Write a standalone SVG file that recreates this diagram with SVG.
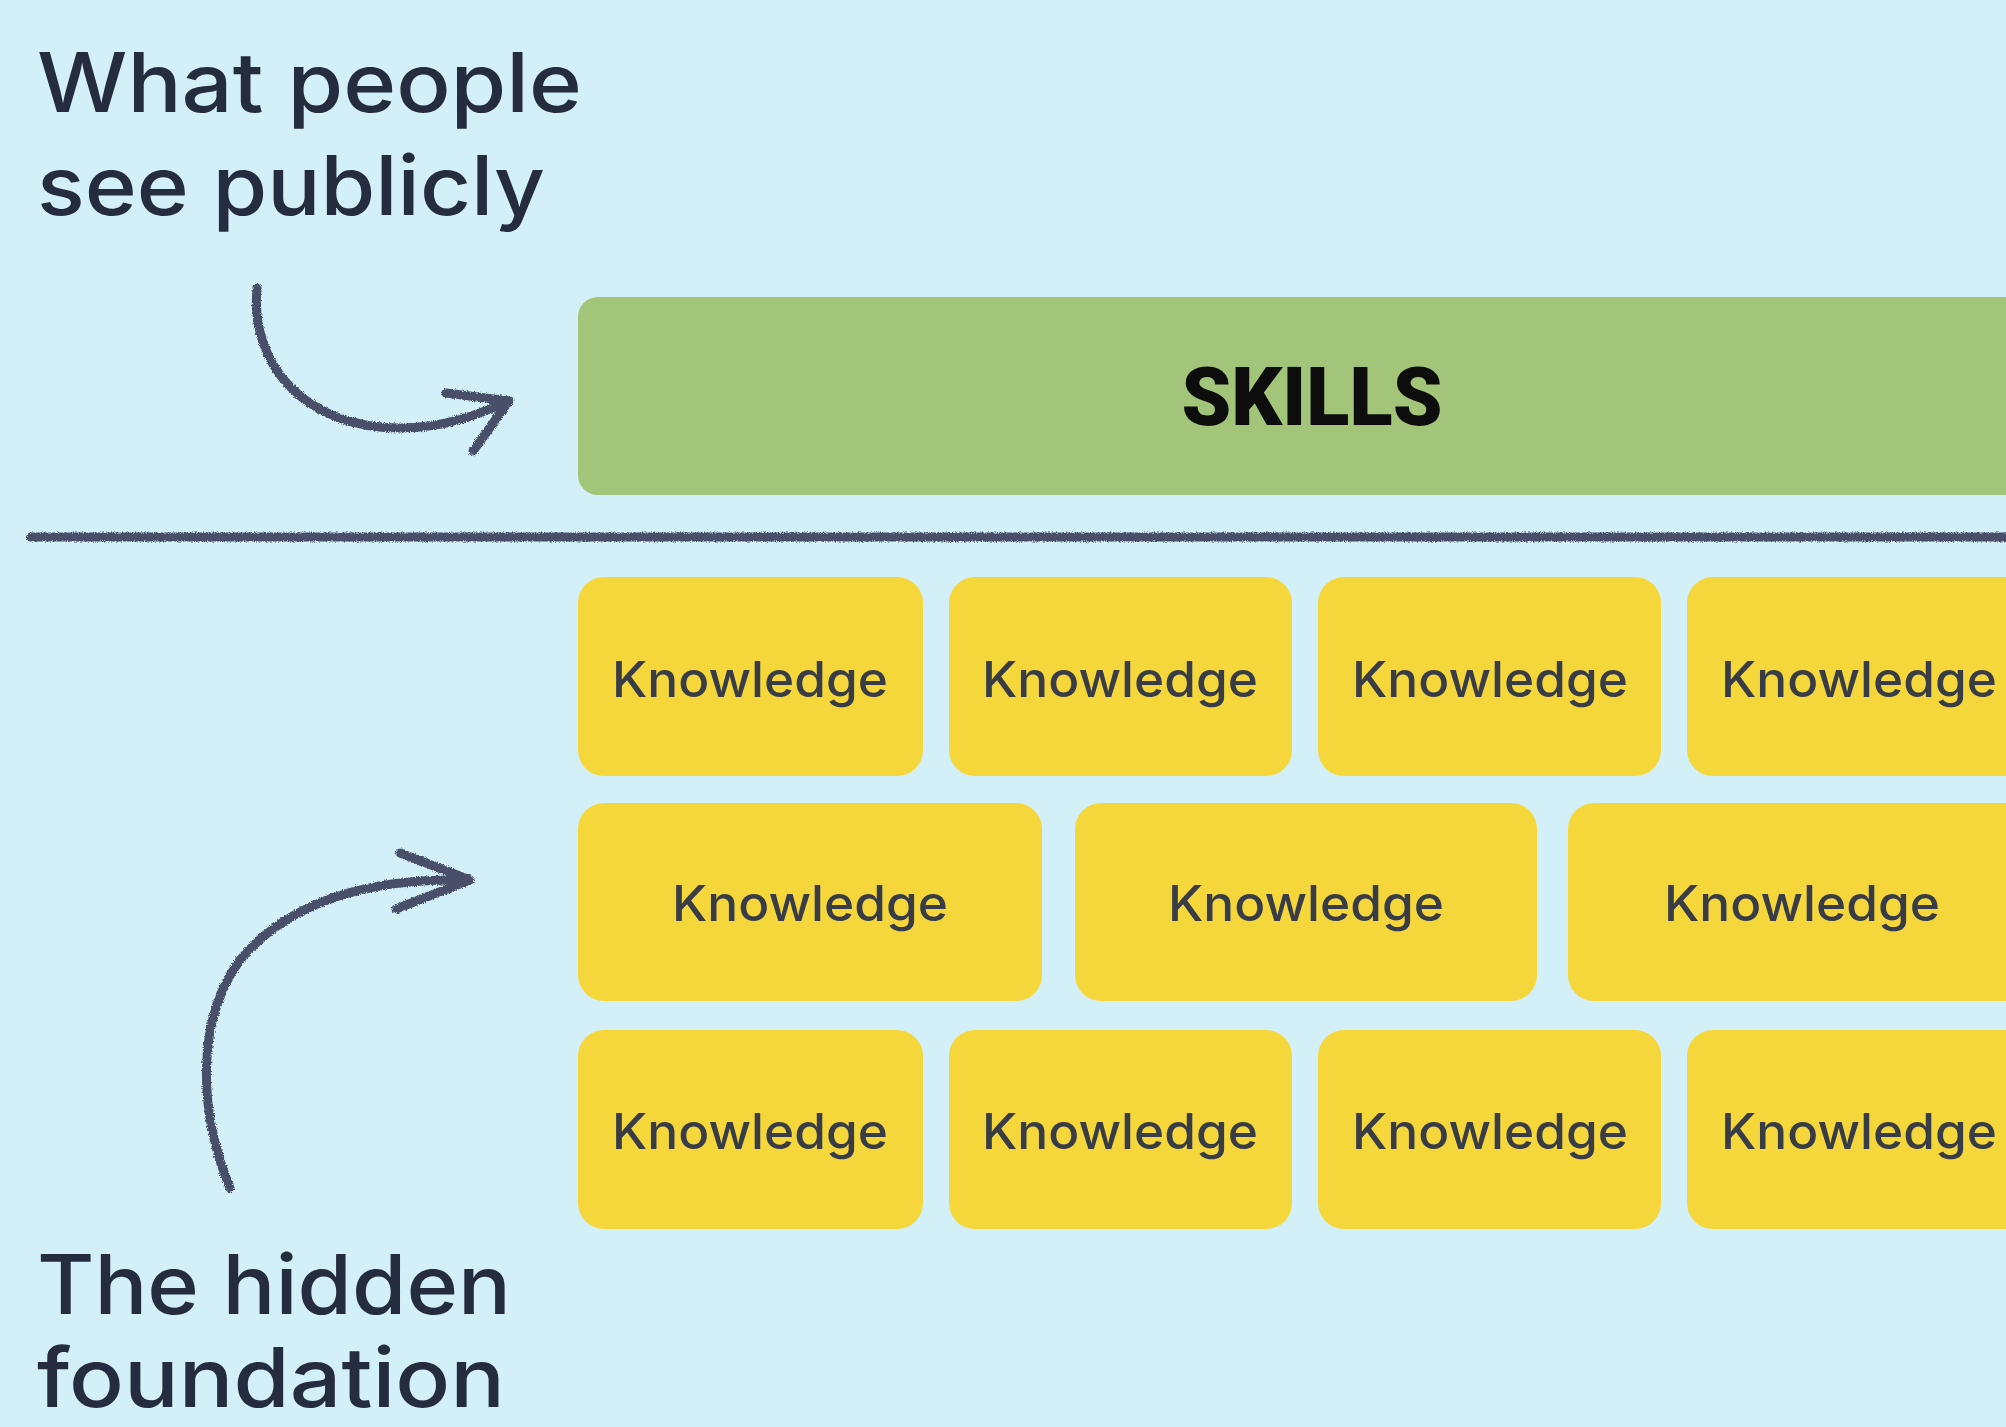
<svg xmlns="http://www.w3.org/2000/svg" width="2006" height="1427" viewBox="0 0 2006 1427">
  <style>
    .bg { fill: #d3eff7; }
    .label { font-family: "Inter", "Noto Sans", "Liberation Sans", sans-serif; font-weight: 500; font-size: 82px; fill: #262c3f; }
    .skills { fill: #a3c57a; }
    .skills-text { font-family: "Roboto", "Inter", "Liberation Sans", sans-serif; font-weight: 900; font-size: 82px; fill: #0d0d0d; text-anchor: middle; }
    .brick { fill: #f6d73b; }
    .brick-text { font-family: "Inter", "Noto Sans", "Liberation Sans", sans-serif; font-weight: 500; font-size: 49px; fill: #383c47; text-anchor: middle; }
    .pencil { fill: none; stroke: #484f68; stroke-width: 9; stroke-linecap: round; stroke-linejoin: round; }
  </style>
  <defs>
    <filter id="rough" x="-5%" y="-50%" width="110%" height="200%">
      <feTurbulence type="fractalNoise" baseFrequency="0.9" numOctaves="2" seed="3" result="n"/>
      <feDisplacementMap in="SourceGraphic" in2="n" scale="4" xChannelSelector="R" yChannelSelector="G"/>
    </filter>
  </defs>

  <rect class="bg" x="0" y="0" width="2006" height="1427"/>

  <g id="label-public">
    <text class="label" x="37" y="112" textLength="545" lengthAdjust="spacingAndGlyphs">What people</text>
    <text class="label" x="37" y="215" textLength="508" lengthAdjust="spacingAndGlyphs">see publicly</text>
  </g>

  <g id="label-hidden">
    <text class="label" x="37" y="1314" textLength="474" lengthAdjust="spacingAndGlyphs">The hidden</text>
    <text class="label" x="37" y="1407" textLength="468" lengthAdjust="spacingAndGlyphs">foundation</text>
  </g>

  <g id="skills">
    <rect class="skills" x="578" y="297" width="1460" height="198" rx="20"/>
    <text class="skills-text" x="1312" y="425" textLength="261" lengthAdjust="spacingAndGlyphs">SKILLS</text>
  </g>

  <g id="knowledge-r1c1"><rect class="brick" x="578" y="577" width="345" height="199" rx="26"/><text class="brick-text" x="750" y="697" textLength="276" lengthAdjust="spacingAndGlyphs">Knowledge</text></g>
  <g id="knowledge-r1c2"><rect class="brick" x="949" y="577" width="343" height="199" rx="26"/><text class="brick-text" x="1120" y="697" textLength="276" lengthAdjust="spacingAndGlyphs">Knowledge</text></g>
  <g id="knowledge-r1c3"><rect class="brick" x="1318" y="577" width="343" height="199" rx="26"/><text class="brick-text" x="1490" y="697" textLength="276" lengthAdjust="spacingAndGlyphs">Knowledge</text></g>
  <g id="knowledge-r1c4"><rect class="brick" x="1687" y="577" width="345" height="199" rx="26"/><text class="brick-text" x="1859" y="697" textLength="276" lengthAdjust="spacingAndGlyphs">Knowledge</text></g>

  <g id="knowledge-r2c1"><rect class="brick" x="578" y="803" width="464" height="198" rx="26"/><text class="brick-text" x="810" y="921" textLength="276" lengthAdjust="spacingAndGlyphs">Knowledge</text></g>
  <g id="knowledge-r2c2"><rect class="brick" x="1075" y="803" width="462" height="198" rx="26"/><text class="brick-text" x="1306" y="921" textLength="276" lengthAdjust="spacingAndGlyphs">Knowledge</text></g>
  <g id="knowledge-r2c3"><rect class="brick" x="1568" y="803" width="468" height="198" rx="26"/><text class="brick-text" x="1802" y="921" textLength="276" lengthAdjust="spacingAndGlyphs">Knowledge</text></g>

  <g id="knowledge-r3c1"><rect class="brick" x="578" y="1030" width="345" height="199" rx="26"/><text class="brick-text" x="750" y="1149" textLength="276" lengthAdjust="spacingAndGlyphs">Knowledge</text></g>
  <g id="knowledge-r3c2"><rect class="brick" x="949" y="1030" width="343" height="199" rx="26"/><text class="brick-text" x="1120" y="1149" textLength="276" lengthAdjust="spacingAndGlyphs">Knowledge</text></g>
  <g id="knowledge-r3c3"><rect class="brick" x="1318" y="1030" width="343" height="199" rx="26"/><text class="brick-text" x="1490" y="1149" textLength="276" lengthAdjust="spacingAndGlyphs">Knowledge</text></g>
  <g id="knowledge-r3c4"><rect class="brick" x="1687" y="1030" width="345" height="199" rx="26"/><text class="brick-text" x="1859" y="1149" textLength="276" lengthAdjust="spacingAndGlyphs">Knowledge</text></g>

  <g id="connectors" filter="url(#rough)">
    <path class="pencil" d="M31,537 L2010,537"/>
    <path class="pencil" d="M257,288 C250,365 305,428 400,428 C445,428 480,414 508,401"/>
    <path class="pencil" d="M446,393 L509,401 L473,451"/>
    <path class="pencil" d="M230,1188 C198,1110 196,1020 240,960 C290,900 370,878 466,880"/>
    <path class="pencil" d="M400,853 L470,880 L396,909"/>
  </g>
</svg>
